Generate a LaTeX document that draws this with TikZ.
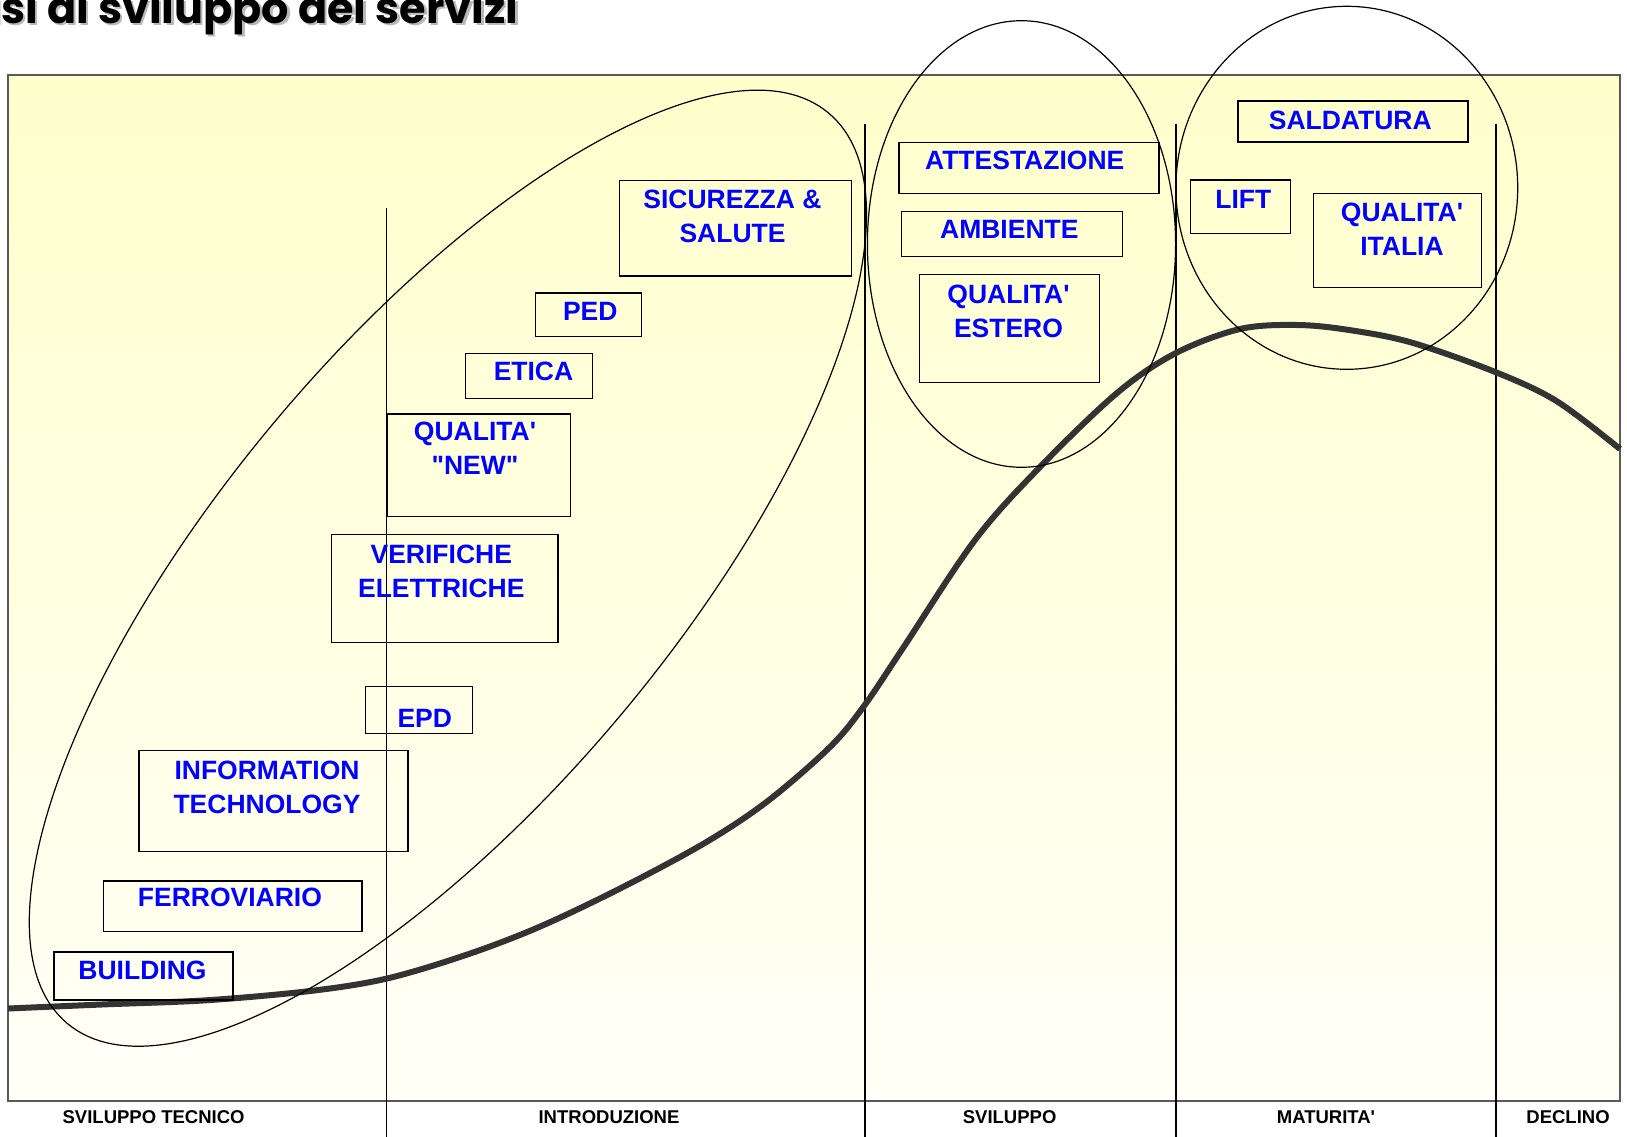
\documentclass[tikz,border=0pt]{standalone}
\usepackage{fontspec}
\setmainfont{Liberation Sans}
\newfontfamily\titlefont{Poppins}
\usetikzlibrary{positioning}
\definecolor{servblue}{HTML}{0000FF}
\definecolor{frametop}{HTML}{FFFFCC}
\definecolor{framebot}{HTML}{FFFFF7}
\definecolor{curvegray}{HTML}{333333}
\newcommand{\ap}{\textquotesingle}
\newcommand{\qq}{\textquotedbl}
\tikzset{
  box/.style={draw=black, line width=1.3pt, inner sep=0pt},
  lbl/.style={text=servblue, inner sep=0pt, align=center, anchor=north,
    font=\fontsize{26.5}{34}\selectfont\bfseries},
  phase/.style={inner sep=0pt, anchor=base, font=\fontsize{18.5}{20}\selectfont\bfseries},
  ring/.style={draw=black, line width=1.2pt},
  divider/.style={draw=black, line width=1.4pt},
  titletext/.style={inner sep=0pt, anchor=base east, font=\titlefont\fontsize{43}{48}\selectfont\bfseries}
}
\begin{document}
\begin{tikzpicture}[x=1pt,y=-1pt]
\useasboundingbox (0,0) rectangle (1627,1137);
\shade[top color=frametop, bottom color=framebot] (8,75) rectangle (1620,1101);
\draw[gray!70!black, line width=1.6pt] (8,75) rectangle (1620,1101);
\node[titletext, text=gray!55] (titleshadow) at (521,26) {Fasi di sviluppo dei servizi};
\node[titletext] (title) at (518.5,23.5) {Fasi di sviluppo dei servizi};
\draw[divider] (386.7,208) -- (386.7,1137);
\draw[divider] (865,124) -- (865,1137);
\draw[divider] (1176,124) -- (1176,1137);
\draw[divider] (1496,124) -- (1496,1137);
\draw[curvegray, line width=6pt, line join=round] plot[smooth, tension=0.55] coordinates {
  (8,1008.5) (104,1004.4) (207.5,1000.2) (311,990.9) (387,978.5) (467,954.6)
  (540,926.6) (622.6,887.2) (705.6,842.5) (767.8,801) (830,747) (864.3,705.6)
  (902.7,648.5) (975,540) (1040,467) (1117,393) (1176,353) (1240,329)
  (1297,325) (1349,330) (1411,342.4) (1494,371.5) (1556.4,401) (1620,449)};
\node[box, minimum width=179pt, minimum height=48pt] (bld) at (143.5,976) {};
\node[lbl, below=9.7pt of bld.north, xshift=-1pt] (bldt) {BUILDING};
\node[box, minimum width=258.3pt, minimum height=50.7pt] (fer) at (232.9,906.4) {};
\node[lbl, below=7.3pt of fer.north, xshift=-3pt] (fert) {FERROVIARIO};
\node[box, minimum width=269pt, minimum height=101pt] (inf) at (273.5,801.2) {};
\node[lbl, below=10.3pt of inf.north, xshift=-6.5pt] (inft) {INFORMATION\\TECHNOLOGY};
\node[box, minimum width=107pt, minimum height=47pt] (epd) at (418.8,710.2) {};
\node[lbl, below=23.3pt of epd.north, xshift=6pt] (epdt) {EPD};
\node[box, minimum width=226.3pt, minimum height=108pt] (ver) at (444.8,588.3) {};
\node[lbl, below=11.4pt of ver.north, xshift=-3.5pt] (vert) {VERIFICHE\\ELETTRICHE};
\node[box, minimum width=183.4pt, minimum height=102.3pt] (qnew) at (479,465.2) {};
\node[lbl, below=8.3pt of qnew.north, xshift=-4pt] (qnewt) {QUALITA\ap\\\qq NEW\qq};
\node[box, minimum width=127.4pt, minimum height=45pt] (eti) at (529,376.2) {};
\node[lbl, below=9pt of eti.north, xshift=4.5pt] (etit) {ETICA};
\node[box, minimum width=106pt, minimum height=43.7pt] (ped) at (588.3,314.85) {};
\node[lbl, below=9.7pt of ped.north, xshift=2pt] (pedt) {PED};
\node[box, minimum width=231.6pt, minimum height=95.3pt] (sic) at (735.5,228.35) {};
\node[lbl, below=9.3pt of sic.north, xshift=-3pt] (sict) {SICUREZZA \&\\SALUTE};
\node[box, minimum width=260pt, minimum height=51pt] (att) at (1029,167.8) {};
\node[lbl, below=9.4pt of att.north, xshift=-4.3pt] (attt) {ATTESTAZIONE};
\node[box, minimum width=221pt, minimum height=45.4pt] (amb) at (1011.8,234) {};
\node[lbl, below=9.4pt of amb.north, xshift=-2.5pt] (ambt) {AMBIENTE};
\node[box, minimum width=180.4pt, minimum height=108pt] (qest) at (1009.5,328.3) {};
\node[lbl, below=10.7pt of qest.north, xshift=-1pt] (qestt) {QUALITA\ap\\ESTERO};
\node[box, minimum width=230pt, minimum height=41pt] (sal) at (1353,121.5) {};
\node[lbl, below=10.7pt of sal.north, xshift=-2.7pt] (salt) {SALDATURA};
\node[box, minimum width=100pt, minimum height=53.7pt] (lift) at (1240.7,206.85) {};
\node[lbl, below=11pt of lift.north, xshift=2.6pt] (liftt) {LIFT};
\node[box, minimum width=167.6pt, minimum height=93.6pt] (qita) at (1397.5,240.5) {};
\node[lbl, below=9.6pt of qita.north, xshift=4.5pt] (qitat) {QUALITA\ap\\ITALIA};
\draw[ring, rotate around={50.1:(447.9,568.2)}] (447.9,568.2) ellipse [x radius=593.4, y radius=226.8];
\draw[ring] (1021.5,244) ellipse [x radius=154.1, y radius=223.3];
\draw[ring] (1346.8,187.8) ellipse [x radius=170.9, y radius=181.5];
\node[phase] (tecnico) at (153.6,1123) {SVILUPPO TECNICO};
\node[phase] (intro) at (609,1123) {INTRODUZIONE};
\node[phase] (svil) at (1009.6,1123) {SVILUPPO};
\node[phase] (matur) at (1326,1123) {MATURITA\ap};
\node[phase] (declino) at (1568,1123) {DECLINO};
\end{tikzpicture}
\end{document}
